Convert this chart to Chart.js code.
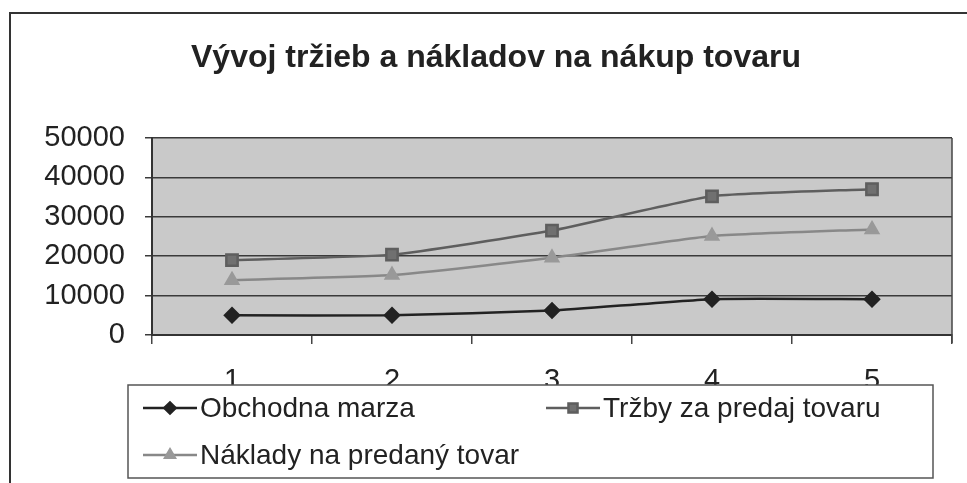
<!DOCTYPE html>
<html lang="sk">
<head>
<meta charset="utf-8">
<title>Vývoj tržieb a nákladov na nákup tovaru</title>
<script src="https://cdn.jsdelivr.net/npm/chart.js@4.4.1/dist/chart.umd.min.js"></script>
<style>
    html, body { margin: 0; padding: 0; background: #fff; }
    #wrap { width: 967px; height: 483px; }
</style>
</head>
<body>
<div id="wrap"><canvas id="vyvojChart" width="967" height="483"></canvas></div>
<script>
const nadpis = 'Vývoj tržieb a nákladov na nákup tovaru';
const kategorie = ['1', '2', '3', '4', '5'];
const obchodnaMarza = [5000, 5000, 6200, 9100, 9100];
const trzby = [19000, 20400, 26500, 35200, 37000];
const naklady = [13900, 15200, 19600, 25100, 26800];
const yTicks = [0, 10000, 20000, 30000, 40000, 50000];

const FONT = '"Liberation Sans", Arial, sans-serif';

// pozadie grafu, nadpis, ramik a legenda
const excelLook = {
    id: 'excelLook',
    beforeDraw(chart) {
        const { ctx, chartArea: a } = chart;
        ctx.save();
        ctx.fillStyle = '#c9c9c9';
        ctx.fillRect(a.left, a.top, a.right - a.left, a.bottom - a.top);
        ctx.restore();
    },
    afterDraw(chart) {
        const { ctx, chartArea: a } = chart;
        ctx.save();
        // prava hrana plochy
        ctx.strokeStyle = '#444';
        ctx.lineWidth = 1.5;
        ctx.beginPath();
        ctx.moveTo(a.right, a.top);
        ctx.lineTo(a.right, a.bottom + 8);
        ctx.stroke();

        // vonkajsi ramik
        ctx.strokeStyle = '#333';
        ctx.lineWidth = 2;
        ctx.beginPath();
        ctx.moveTo(10, 490);
        ctx.lineTo(10, 13);
        ctx.lineTo(975, 13);
        ctx.stroke();

        // nadpis
        ctx.fillStyle = '#222';
        ctx.font = 'bold 32px ' + FONT;
        ctx.textAlign = 'center';
        ctx.textBaseline = 'alphabetic';
        ctx.fillText(nadpis, 496, 67);

        // legenda
        ctx.fillStyle = '#fff';
        ctx.fillRect(128, 385, 805, 93);
        ctx.strokeStyle = '#555';
        ctx.lineWidth = 1.5;
        ctx.strokeRect(128, 385, 805, 93);

        const miesta = [[143, 408], [546, 408], [143, 455]];
        chart.data.datasets.forEach((ds, i) => {
            const [x, y] = miesta[i];
            ctx.strokeStyle = ds.borderColor;
            ctx.lineWidth = ds.borderWidth;
            ctx.beginPath();
            ctx.moveTo(x, y);
            ctx.lineTo(x + 54, y);
            ctx.stroke();
            ctx.fillStyle = ds.pointBackgroundColor;
            ctx.strokeStyle = ds.pointBorderColor;
            Chart.helpers.drawPoint(ctx, {
                pointStyle: ds.pointStyle,
                radius: ds.pointRadius * 0.8,
                borderWidth: 1,
                rotation: 0
            }, x + 27, y);
            ctx.fillStyle = '#222';
            ctx.font = '28px ' + FONT;
            ctx.textBaseline = 'middle';
            ctx.textAlign = 'left';
            ctx.fillText(ds.label, x + 57, y + 1);
        });
        ctx.restore();
    }
};

document.addEventListener('DOMContentLoaded', () => {
    const ctx = document.getElementById('vyvojChart').getContext('2d');
    new Chart(ctx, {
        type: 'line',
        data: {
            labels: kategorie,
            datasets: [{
                label: 'Obchodna marza',
                data: obchodnaMarza,
                borderColor: '#222',
                borderWidth: 2.5,
                pointStyle: 'rectRot',
                pointRadius: 7,
                pointBackgroundColor: '#222',
                pointBorderColor: '#222',
                tension: 0.15
            }, {
                label: 'Tržby za predaj tovaru',
                data: trzby,
                borderColor: '#5e5e5e',
                borderWidth: 2.5,
                pointStyle: 'rect',
                pointRadius: 8,
                pointBackgroundColor: '#707070',
                pointBorderColor: '#5e5e5e',
                tension: 0.15
            }, {
                label: 'Náklady na predaný tovar',
                data: naklady,
                borderColor: '#888',
                borderWidth: 2.5,
                pointStyle: 'triangle',
                pointRadius: 7,
                pointBackgroundColor: '#999',
                pointBorderColor: '#999',
                tension: 0.15
            }]
        },
        options: {
            responsive: false,
            animation: false,
            layout: { padding: { left: 0, right: 15, top: 138, bottom: 0 } },
            plugins: {
                legend: { display: false },
                tooltip: { enabled: false },
                title: { display: false }
            },
            scales: {
                x: {
                    offset: true,
                    afterFit(scale) { scale.height = 148; },
                    grid: {
                        offset: true,
                        drawOnChartArea: false,
                        color: '#444',
                        lineWidth: 1.5,
                        tickLength: 9
                    },
                    border: { display: true, color: '#333', width: 2 },
                    ticks: {
                        color: '#222',
                        padding: 20,
                        font: { family: FONT, size: 29 }
                    }
                },
                y: {
                    min: 0,
                    max: 50000,
                    afterFit(scale) { scale.width = 152; },
                    afterBuildTicks(scale) { scale.ticks = yTicks.map(v => ({ value: v })); },
                    grid: {
                        color: '#3a3a3a',
                        lineWidth: 1.5,
                        tickLength: 7
                    },
                    border: { display: true, color: '#333', width: 2 },
                    ticks: {
                        color: '#222',
                        padding: 20,
                        font: { family: FONT, size: 29 },
                        callback: v => String(v)
                    }
                }
            }
        },
        plugins: [excelLook]
    });
});
</script>
</body>
</html>
